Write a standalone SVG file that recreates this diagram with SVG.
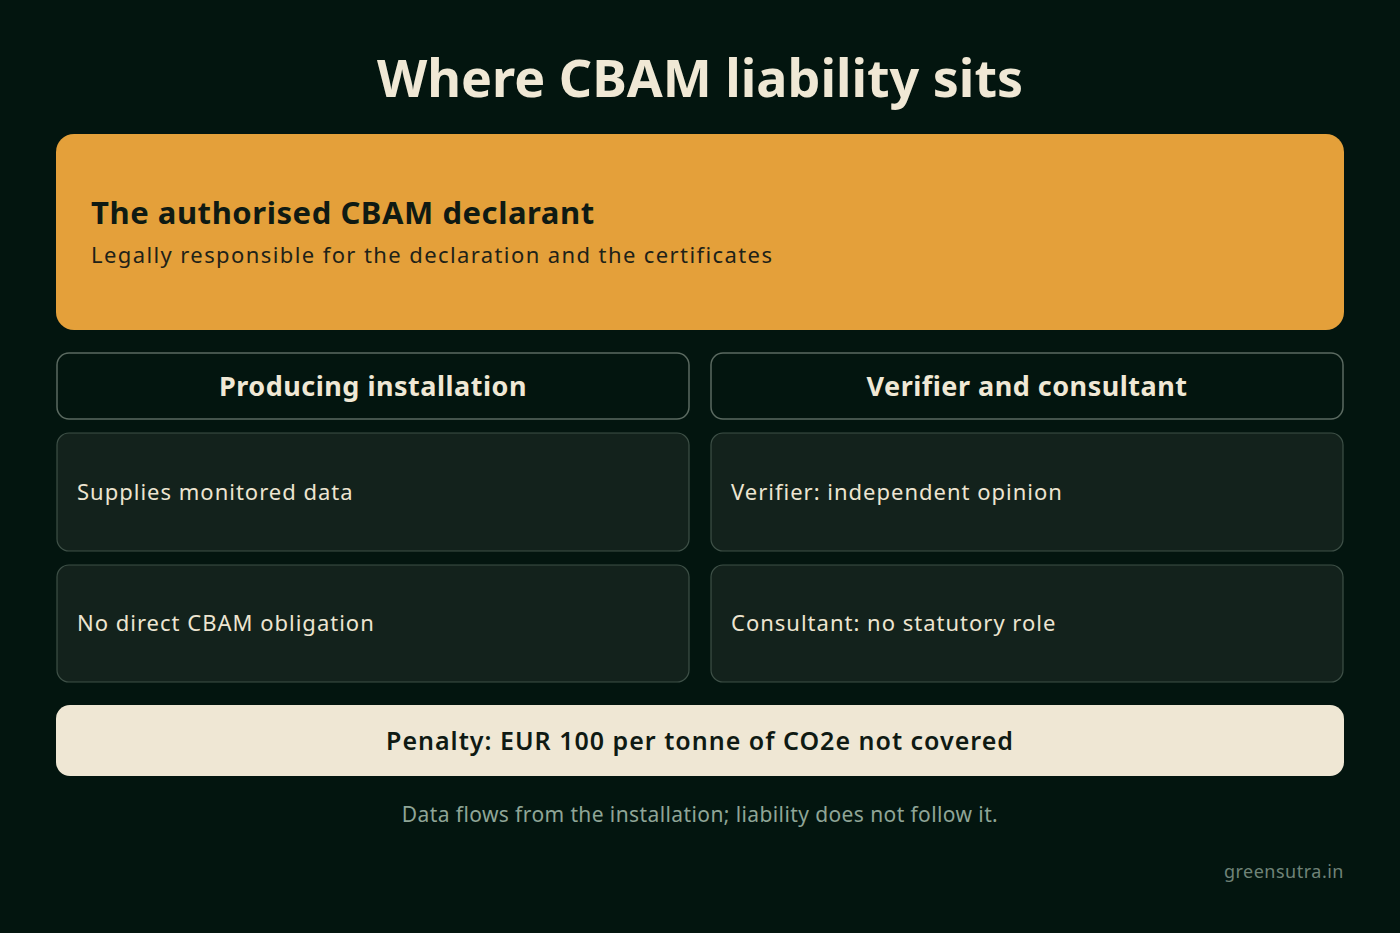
<svg xmlns="http://www.w3.org/2000/svg" width="1400" height="933" viewBox="0 0 1400 933">
<style>
text{font-family:"Noto Sans","Lato",sans-serif}
.title{font-size:52px;font-weight:700;fill:#F0E8D5}
.hbox{fill:#03150F;stroke:#5B6A61;stroke-width:1.5}
.htxt{font-size:27px;font-weight:700;fill:#F0E8D5;letter-spacing:0.5px}
.card{fill:#13221C;stroke:#3E5047;stroke-width:1.2}
.ctxt{font-size:22px;fill:#EDE5D1;letter-spacing:1px}
</style>
<rect width="1400" height="933" fill="#03150F"/>
<text class="title" x="700" y="97" text-anchor="middle">Where CBAM liability sits</text>
<g id="declarant">
<rect x="56" y="134" width="1288" height="196" rx="18" fill="#E4A03A"/>
<text x="91" y="224" font-size="31" font-weight="700" fill="#0F1A13" letter-spacing="0.55">The authorised CBAM declarant</text>
<text x="91" y="263" font-size="22" fill="#1E2218" letter-spacing="1.4">Legally responsible for the declaration and the certificates</text>
</g>
<g id="installation-header">
<rect class="hbox" x="57" y="353" width="632" height="66" rx="12"/>
<text class="htxt" x="373" y="396" text-anchor="middle">Producing installation</text>
</g>
<g id="verifier-header">
<rect class="hbox" x="711" y="353" width="632" height="66" rx="12"/>
<text class="htxt" x="1027" y="396" text-anchor="middle">Verifier and consultant</text>
</g>
<g id="supplies">
<rect class="card" x="57" y="433" width="632" height="118" rx="12"/>
<text class="ctxt" x="77" y="500">Supplies monitored data</text>
</g>
<g id="no-obligation">
<rect class="card" x="57" y="565" width="632" height="117" rx="12"/>
<text class="ctxt" x="77" y="631">No direct CBAM obligation</text>
</g>
<g id="verifier">
<rect class="card" x="711" y="433" width="632" height="118" rx="12"/>
<text class="ctxt" x="731" y="500">Verifier: independent opinion</text>
</g>
<g id="consultant">
<rect class="card" x="711" y="565" width="632" height="117" rx="12"/>
<text class="ctxt" x="731" y="631">Consultant: no statutory role</text>
</g>
<g id="penalty">
<rect x="56" y="705" width="1288" height="71" rx="14" fill="#EFE7D4"/>
<text x="700" y="750" text-anchor="middle" font-size="25" font-weight="600" fill="#0F1A13" letter-spacing="1">Penalty: EUR 100 per tonne of CO2e not covered</text>
</g>
<g id="connectors"></g>
<text x="700" y="822" text-anchor="middle" font-size="21" fill="#8FA597" letter-spacing="0.4">Data flows from the installation; liability does not follow it.</text>
<text x="1344" y="878" text-anchor="end" font-size="18" fill="#6F8378" letter-spacing="0.5">greensutra.in</text>
</svg>
